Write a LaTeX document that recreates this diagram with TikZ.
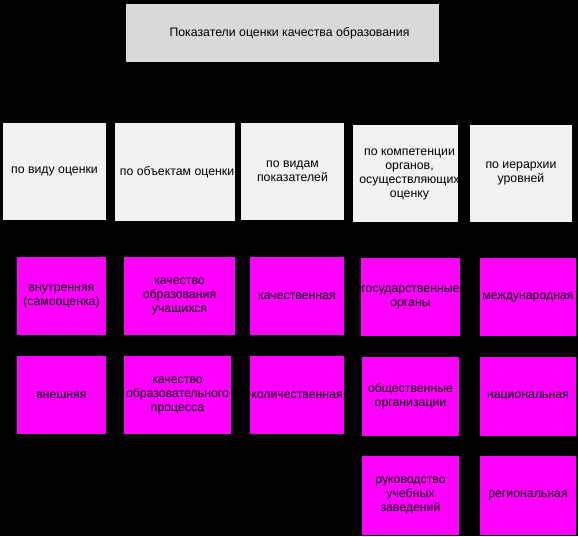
\documentclass[tikz,border=0pt]{standalone}
\usepackage{fontspec}
\setmainfont{Liberation Sans}
\newcommand{\shiftr}[2]{\hspace*{#1}#2\hspace*{-#1}}
\begin{document}
\begin{tikzpicture}[x=1pt,y=-1pt,
  box/.style={inner sep=0pt, outer sep=0pt, align=center, text=black,
    font=\fontsize{12.3}{14}\selectfont},
  title/.style={box, fill={rgb,255:red,217;green,217;blue,217}},
  cat/.style={box, fill={rgb,255:red,242;green,242;blue,242}},
  item/.style={box, fill={rgb,255:red,255;green,0;blue,255}}]
\fill[black] (0,0) rectangle (578,536);
\useasboundingbox (0,0) rectangle (578,536);
% title
\node[title, minimum width=313, minimum height=58] (t) at (282.5,33) {\shiftr{7pt}{Показатели оценки качества образования}};
% categories
\node[cat, minimum width=103, minimum height=97] (c1) at (54.5,171.5) {по виду оценки};
\node[cat, minimum width=120, minimum height=98] (c2) at (175,172) {\shiftr{2pt}{по объектам оценки}};
\node[cat, minimum width=103, minimum height=97] (c3) at (292.5,171.5) {по видам\\показателей};
\node[cat, minimum width=105, minimum height=97] (c4) at (405.5,173.5) {\shiftr{4pt}{\begin{tabular}{@{}c@{}}по компетенции\\органов,\\осуществляющих\\оценку\end{tabular}}};
\node[cat, minimum width=102, minimum height=97] (c5) at (521,173.5) {по иерархии\\уровней};
% items
\node[item, minimum width=89, minimum height=78] (a1) at (61.5,296) {внутренняя\\(самооценка)};
\node[item, minimum width=89, minimum height=78] (a2) at (61.5,395) {внешняя};
\node[item, minimum width=111, minimum height=78] (b1) at (179.5,296) {качество\\образования\\учащихся};
\node[item, minimum width=107, minimum height=78] (b2) at (177.5,395) {качество\\образовательного\\процесса};
\node[item, minimum width=94, minimum height=78] (d1) at (297,296) {качественная};
\node[item, minimum width=94, minimum height=78] (d2) at (297,395) {количественная};
\node[item, minimum width=97, minimum height=78] (e1) at (410.5,297) {государственные\\органы};
\node[item, minimum width=97, minimum height=79] (e2) at (410.5,396.5) {общественные\\организации};
\node[item, minimum width=97, minimum height=79] (e3) at (410.5,495.5) {руководство\\учебных\\заведений};
\node[item, minimum width=96, minimum height=78] (f1) at (528,297) {международная};
\node[item, minimum width=96, minimum height=79] (f2) at (528,396.5) {национальная};
\node[item, minimum width=96, minimum height=79] (f3) at (528,495.5) {региональная};
\end{tikzpicture}
\end{document}
